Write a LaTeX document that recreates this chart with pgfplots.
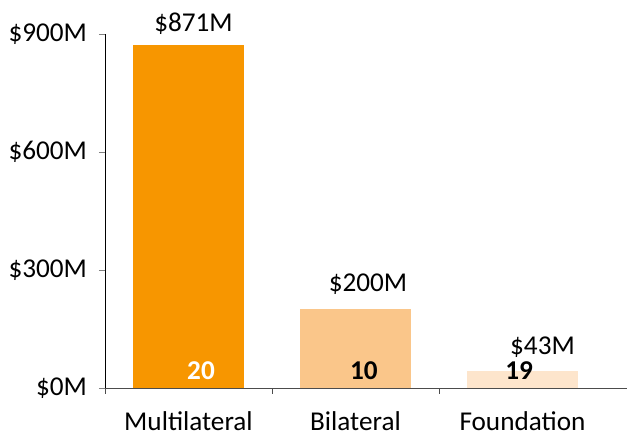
\documentclass[border=0pt]{standalone}
\usepackage{pgfplots}
\pgfplotsset{compat=1.18}
\usepackage{fontspec}
\setmainfont{Carlito}

\definecolor{multi}{RGB}{247,150,0}
\definecolor{bilat}{RGB}{250,198,138}
\definecolor{found}{RGB}{253,229,204}

\begin{document}
\begin{tikzpicture}[font=\fontsize{13.6}{16}\selectfont]
  \begin{axis}[
    at={(0,0)}, anchor=south west,
    scale only axis,
    width=261pt, height=177pt,
    xmin=-0.5, xmax=2.626,
    ymin=0, ymax=900,
    axis x line=bottom, axis y line=left,
    axis line style={-},
    x axis line style={gray!60!black},
    y axis line style={black},
    xtick={0,1,2},
    xticklabels={Multilateral, Bilateral, Foundation},
    major x tick style={draw=none},
    minor xtick={-0.5,0.5,1.5},
    minor x tick style={gray!60!black},
    xticklabel style={yshift=-7.5pt, text depth=0pt, inner sep=1pt},
    ytick={0,300,600,900},
    yticklabels={\$0M, \$300M, \$600M, \$900M},
    yticklabel style={xshift=-2.5pt},
    tick align=outside,
    major tick length=3pt, minor tick length=3pt,
    ybar, bar width=55.5pt, bar shift=0pt,
    clip=false,
  ]
    \addplot[fill=multi, draw=none] coordinates {(0,871)};
    \addplot[fill=bilat, draw=none] coordinates {(1,200)};
    \addplot[fill=found, draw=none] coordinates {(2,43)};

    % value labels
    \node at (axis cs:0.03,926) {\$871M};
    \node at (axis cs:1.075,264) {\$200M};
    \node at (axis cs:2.12,104) {\$43M};
    % counts
    \node[white, font=\fontsize{13.6}{16}\selectfont\bfseries] at (axis cs:0.075,45) {20};
    \node[font=\fontsize{13.6}{16}\selectfont\bfseries] at (axis cs:1.05,45) {10};
    \node[font=\fontsize{13.6}{16}\selectfont\bfseries] at (axis cs:1.98,45) {19};
  \end{axis}
  \pgfresetboundingbox
  \path[use as bounding box] (-52.5pt,-25.5pt) rectangle (261pt,194pt);
\end{tikzpicture}
\end{document}
